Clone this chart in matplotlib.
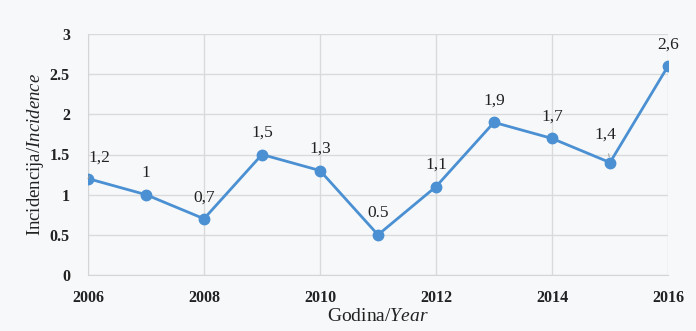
import matplotlib
matplotlib.use("Agg")
import matplotlib.pyplot as plt

years = [2006, 2007, 2008, 2009, 2010, 2011, 2012, 2013, 2014, 2015, 2016]
values = [1.2, 1.0, 0.7, 1.5, 1.3, 0.5, 1.1, 1.9, 1.7, 1.4, 2.6]
labels = ["1,2", "1", "0,7", "1,5", "1,3", "0.5", "1,1", "1,9", "1,7", "1,4", "2,6"]
xticks = [2006, 2008, 2010, 2012, 2014, 2016]
yticks = [0, 0.5, 1, 1.5, 2, 2.5, 3]
ytick_labels = ["0", "0.5", "1", "1.5", "2", "2.5", "3"]

plt.rcParams['font.family'] = ['Liberation Serif', 'DejaVu Serif']
plt.rcParams['mathtext.fontset'] = 'custom'
plt.rcParams['mathtext.rm'] = 'Liberation Serif'
plt.rcParams['mathtext.it'] = 'Liberation Serif:italic'

bg = '#F7F8FA'
fig = plt.figure(figsize=(6.96, 3.31), dpi=100, facecolor=bg)
ax = fig.add_axes([88/696, 1-275/331, 580/696, 241/331])
ax.set_facecolor(bg)

color = '#4A90D2'
ax.plot(years, values, color=color, lw=2.0, marker='o', ms=7.5, zorder=3)

# label offsets in points (dx, dy)
offsets = {0: (8, 15), 9: (-3, 20)}
for i, (x, y, t) in enumerate(zip(years, values, labels)):
    dx, dy = offsets.get(i, (0, 15.5))
    if i in offsets:
        ax.annotate(t, (x, y), xytext=(dx, dy), textcoords='offset points',
                    ha='center', va='center', fontsize=12.5, color='#222222',
                    arrowprops=dict(arrowstyle='-', color='#999999', lw=0.7,
                                    shrinkA=6, shrinkB=4))
    else:
        ax.annotate(t, (x, y), xytext=(dx, dy), textcoords='offset points',
                    ha='center', va='center', fontsize=12.5, color='#222222')

ax.set_xlim(2006, 2016)
ax.set_ylim(0, 3)
ax.set_xticks(xticks)
ax.set_xticklabels([str(v) for v in xticks], fontweight='bold', fontsize=11.5, color='#222222')
ax.set_yticks(yticks)
ax.set_yticklabels(ytick_labels, fontweight='bold', fontsize=11.5, color='#222222')
ax.tick_params(length=0)
ax.tick_params(axis='x', pad=11)
ax.tick_params(axis='y', pad=13)
ax.grid(True, color='#DADADA', lw=1.0)
ax.set_axisbelow(True)
for s in ax.spines.values():
    s.set_visible(False)
ax.spines['left'].set_visible(True)
ax.spines['left'].set_color('#D5D5D5')
ax.spines['bottom'].set_visible(True)
ax.spines['bottom'].set_color('#D5D5D5')

ax.set_xlabel("Godina/$\\mathit{Year}$", fontsize=14, color='#222222', labelpad=1)
ax.set_ylabel("Incidencija/$\\mathit{Incidence}$", fontsize=13.5, color='#222222', labelpad=3)

fig.savefig("out.png", dpi=100, facecolor=bg)
